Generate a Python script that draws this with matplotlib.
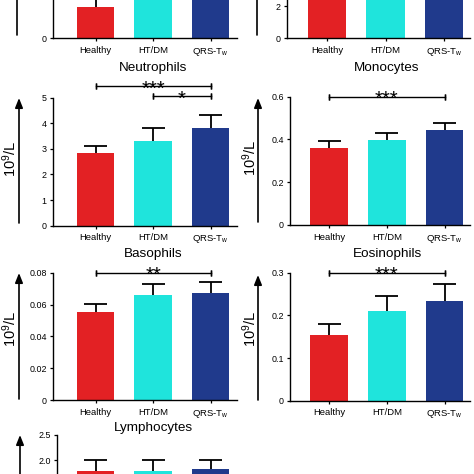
import matplotlib
matplotlib.use("Agg")
import matplotlib.pyplot as plt
from matplotlib.patches import FancyArrowPatch
from matplotlib.transforms import blended_transform_factory

plt.rcParams['font.family'] = ['Liberation Sans', 'DejaVu Sans']
plt.rcParams['mathtext.fontset'] = 'custom'
plt.rcParams['mathtext.rm'] = 'Liberation Sans'
plt.rcParams['mathtext.it'] = 'Liberation Sans'

# ---------------- data ----------------
groups = ["Healthy", "HT/DM", "QRS-T$_\\mathregular{w}$"]

top_left_mean = [2.4, 3.6, 3.9]
top_left_sem = [0.8, 0.8, 0.8]
top_right_mean = [3.2, 3.3, 3.5]
top_right_sem = [0.4, 0.4, 0.4]

neutrophils_mean = [2.85, 3.30, 3.83]
neutrophils_sem = [0.27, 0.53, 0.51]

monocytes_mean = [0.360, 0.399, 0.443]
monocytes_sem = [0.033, 0.032, 0.035]

basophils_mean = [0.0555, 0.0662, 0.0671]
basophils_sem = [0.0050, 0.0069, 0.0071]

eosinophils_mean = [0.153, 0.210, 0.234]
eosinophils_sem = [0.027, 0.035, 0.040]

lymphocytes_mean = [1.79, 1.79, 1.83]
lymphocytes_sem = [0.21, 0.21, 0.17]

colors = ["#e32124", "#1fe4dc", "#203a8c"]

W, H = 474, 474
fig = plt.figure(figsize=(W / 100, H / 100), dpi=100)


def px_axes(left, right, top, bottom):
    return fig.add_axes([left / W, 1 - bottom / H, (right - left) / W, (bottom - top) / H])


def fx(x):
    return x / W


def fy(y):
    return 1 - y / H


def panel(ax, means, sems, ylim, yticks, ylabels, xlim, xlabels=True):
    x = list(range(len(groups)))
    ax.bar(x, means, width=0.65, color=colors, zorder=2)
    tops = [m + s for m, s in zip(means, sems)]
    ax.vlines(x, means, tops, color='black', lw=1.3, zorder=3)
    ax.hlines(tops, [i - 0.2 for i in x], [i + 0.2 for i in x], color='black', lw=1.3, zorder=3)
    ax.set_xlim(*xlim)
    ax.set_ylim(*ylim)
    ax.set_yticks(yticks)
    ax.set_yticklabels(ylabels, fontsize=6.4)
    ax.set_xticks(x)
    if xlabels:
        ax.set_xticklabels(groups, fontsize=6.8)
    else:
        ax.set_xticklabels([])
    for s in ['top', 'right']:
        ax.spines[s].set_visible(False)
    for s in ['left', 'bottom']:
        ax.spines[s].set_linewidth(1.0)
    ax.tick_params(axis='y', length=2.5, width=0.9, pad=2)
    ax.tick_params(axis='x', length=2.5, width=0.9, pad=3)
    ax.patch.set_alpha(0)


def sig(ax, x1, x2, yfrac, text):
    tr = blended_transform_factory(ax.transData, ax.transAxes)
    ax.plot([x1, x2], [yfrac, yfrac], transform=tr, color='black', lw=1.0, clip_on=False)
    for xx in (x1, x2):
        ax.plot([xx, xx], [yfrac, yfrac], transform=tr, color='black', lw=1.0,
                marker='|', markersize=5, clip_on=False)
    ax.annotate(text, xy=((x1 + x2) / 2, yfrac), xycoords=tr, xytext=(0, -6.0),
                textcoords='offset points', ha='center', va='baseline',
                fontsize=14.5, annotation_clip=False)


def arrow(x, y0, y1):
    a = FancyArrowPatch((fx(x), fy(y0)), (fx(x), fy(y1)), transform=fig.transFigure,
                        arrowstyle='-|>,head_length=0.5,head_width=0.2', mutation_scale=11.5,
                        lw=1.2, color='black', shrinkA=0, shrinkB=0)
    fig.add_artist(a)


def ylab(x, y):
    fig.text(fx(x), fy(y), "10$^\\mathregular{9}$/L", rotation=90, ha='center', va='center', fontsize=10.5)


def title(x, y, t):
    fig.text(fx(x), fy(y), t, ha='center', va='center', fontsize=9.7)


left_xlim = (-0.74, 2.46)
right_xlim = (-0.68, 2.44)

# top row (cropped at the top edge)
ax = px_axes(53, 237, -90, 38)
panel(ax, top_left_mean, top_left_sem, (0, 10), [0, 5, 10], ["0", "", ""], left_xlim)
arrow(17, 35, -80)
ax = px_axes(287, 470, -90, 38)
panel(ax, top_right_mean, top_right_sem, (0, 8), [0, 2, 4, 6, 8], ["0", "2", "", "", ""], right_xlim)
arrow(257, 35, -80)

# Neutrophils
title(153, 68, "Neutrophils")
ax = px_axes(53, 237, 97.7, 225.7)
panel(ax, neutrophils_mean, neutrophils_sem, (0, 5), [0, 1, 2, 3, 4, 5],
      ["0", "1", "2", "3", "4", "5"], left_xlim)
sig(ax, 0, 2, 1.091, "***")
sig(ax, 1, 2, 1.013, "*")
arrow(19, 223, 98)
ylab(10, 158.5)

# Monocytes
title(387, 68, "Monocytes")
ax = px_axes(290, 470, 96.7, 225)
panel(ax, monocytes_mean, monocytes_sem, (0, 0.6), [0, 0.2, 0.4, 0.6],
      ["0", "0.2", "0.4", "0.6"], right_xlim)
sig(ax, 0, 2, 1.0, "***")
arrow(258, 222, 98)
ylab(250, 157.5)

# Basophils
title(153, 254, "Basophils")
ax = px_axes(53, 237, 272.7, 400)
panel(ax, basophils_mean, basophils_sem, (0, 0.08), [0, 0.02, 0.04, 0.06, 0.08],
      ["0", "0.02", "0.04", "0.06", "0.08"], left_xlim)
sig(ax, 0, 2, 1.0, "**")
arrow(19, 399, 273)
ylab(10, 329)

# Eosinophils
title(387, 254, "Eosinophils")
ax = px_axes(290, 470, 272.7, 400.7)
panel(ax, eosinophils_mean, eosinophils_sem, (0, 0.3), [0, 0.1, 0.2, 0.3],
      ["0", "0.1", "0.2", "0.3"], right_xlim)
sig(ax, 0, 2, 1.0, "***")
arrow(258, 400, 275)
ylab(250, 329)

# Lymphocytes (cropped at the bottom edge)
title(153, 428, "Lymphocytes")
ax = px_axes(57, 237, 435, 560)
panel(ax, lymphocytes_mean, lymphocytes_sem, (0, 2.5), [0, 0.5, 1.0, 1.5, 2.0, 2.5],
      ["", "", "", "", "2.0", "2.5"], (-0.67, 2.46), xlabels=False)
arrow(20, 560, 435)

fig.savefig("out.png", dpi=100)
